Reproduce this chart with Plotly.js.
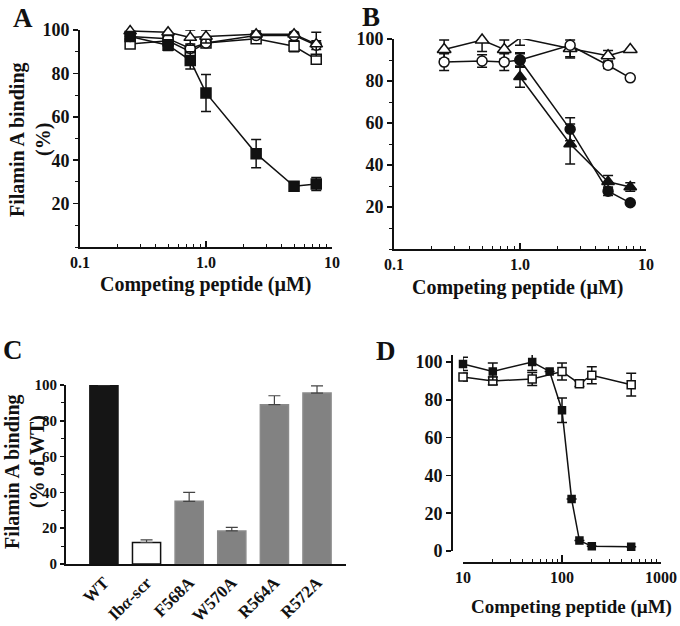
<!DOCTYPE html>
<html><head><meta charset="utf-8">
<script src="https://cdn.plot.ly/plotly-3.0.1.min.js"></script>
<style>html,body{margin:0;padding:0;background:#fff}#chart{width:680px;height:626px}</style>
</head><body><div id="chart"></div>
<script>
// ---------- Panel A ----------
const concAB = [0.25, 0.5, 0.75, 1.0, 2.5, 5, 7.5];
const aFilledSq = [97, 93, 86, 71, 43, 28, 29];
const aFilledSqErr = [2, 2.5, 4, 8.5, 6.5, 1.5, 3];
const aOpenSq = [93.5, 95, 90, 94, 96, 92.5, 86.5];
const aOpenSqErr = [1.5, 1.5, 2, 1.5, 1, 2.5, 1.5];
const aOpenCirc = [97, 96, 91.5, 94, 97.5, 97.5, 93];
const aOpenCircErr = [1, 1, 2, 1, 1, 1, 2];
const aOpenTri = [99.5, 99, 96.5, 97, 98, 98, 93.5];
const aOpenTriErr = [1, 1.5, 3.5, 3, 1.5, 1, 5.5];
// ---------- Panel B ----------
const bOpenTri = [95, 99.5, 95, 100.5, 95.5, 92, 95];
const bOpenTriErr = [4.5, 5.5, 4.5, 3.5, 4, 2.5, 0];
const bOpenCirc = [89, 89.5, 89, 90, 97, 87.5, 81.5];
const bOpenCircErr = [4, 3, 4, 3.5, 6, 1.5, 0];
const concBFilled = [1.0, 2.5, 5, 7.5];
const bFilledCirc = [90, 57, 27.5, 22];
const bFilledCircErr = [3, 5.5, 2, 0];
const bFilledTri = [82, 50, 32, 29.5];
const bFilledTriErr = [5, 9.5, 3, 2];
// ---------- Panel C ----------
const cCategories = ['WT', 'Ib<i>α</i>-scr', 'F568A', 'W570A', 'R564A', 'R572A'];
const cValues = [100, 12, 35, 18.5, 89, 95.5];
const cErrors = [0, 1.5, 5, 2, 5, 4];
// ---------- Panel D ----------
const dConcFilled = [10, 20, 50, 75, 100, 125, 150, 200, 500];
const dFilled = [99, 95, 100, 95, 74.5, 27.5, 5.5, 2.5, 2.2];
const dFilledErr = [3.5, 4.5, 4.5, 0, 6.5, 0, 0, 0, 0];
const dConcOpen = [10, 20, 50, 100, 150, 200, 500];
const dOpen = [92, 90, 91, 95, 88.5, 93, 88];
const dOpenErr = [2, 2, 3.5, 4.5, 1.5, 4.5, 6];

const W = 680, H = 626;
const px = p => p / W, py = p => 1 - p / H;
const FONT = 'Liberation Serif, Times New Roman, serif';
const BLK = '#111';

function errs(arr) { return {type: 'data', array: arr, visible: true, color: BLK, thickness: 1.5, width: 5}; }
function series(x, y, e, sym, fill, size, xa, ya) {
  return {
    type: 'scatter', mode: 'lines+markers', x: x, y: y, xaxis: xa, yaxis: ya,
    error_y: errs(e), cliponaxis: false,
    line: {color: BLK, width: 1.5},
    marker: {symbol: sym, size: size, color: fill, line: {color: BLK, width: 1.5}},
    showlegend: false, hoverinfo: 'skip'
  };
}

const traces = [
  series(concAB, aOpenSq, aOpenSqErr, 'square', '#fff', 10, 'x', 'y'),
  series(concAB, aOpenCirc, aOpenCircErr, 'circle', '#fff', 10, 'x', 'y'),
  series(concAB, aOpenTri, aOpenTriErr, 'triangle-up', '#fff', 11, 'x', 'y'),
  series(concAB, aFilledSq, aFilledSqErr, 'square', BLK, 10, 'x', 'y'),

  series(concAB, bOpenTri, bOpenTriErr, 'triangle-up', '#fff', 12, 'x2', 'y2'),
  series(concAB, bOpenCirc, bOpenCircErr, 'circle', '#fff', 10, 'x2', 'y2'),
  series(concBFilled, bFilledTri, bFilledTriErr, 'triangle-up', BLK, 11, 'x2', 'y2'),
  series(concBFilled, bFilledCirc, bFilledCircErr, 'circle', BLK, 10, 'x2', 'y2'),

  {
    type: 'bar', x: cCategories, y: cValues, xaxis: 'x3', yaxis: 'y3',
    marker: {color: ['#151515', '#ffffff', '#828282', '#828282', '#828282', '#828282'],
             line: {color: ['#151515', BLK, '#8a8a8a', '#8a8a8a', '#8a8a8a', '#8a8a8a'], width: 1.5}},
    error_y: {type: 'data', symmetric: false, array: cErrors, arrayminus: cErrors.map(() => 0),
              visible: true, color: '#444', thickness: 1.2, width: 6},
    showlegend: false, hoverinfo: 'skip'
  },

  series(dConcOpen, dOpen, dOpenErr, 'square', '#fff', 8, 'x4', 'y4'),
  series(dConcFilled, dFilled, dFilledErr, 'square', BLK, 7, 'x4', 'y4')
];

const minorLog = {tickmode: 'array', tickvals: [0.2,0.3,0.4,0.5,0.6,0.7,0.8,0.9,2,3,4,5,6,7,8,9],
                  ticks: 'inside', ticklen: 3, tickwidth: 1, tickcolor: BLK, showgrid: false};
const minorLogD = {tickmode: 'array', tickvals: [20,30,40,50,60,70,80,90,200,300,400,500,600,700,800,900],
                  ticks: 'inside', ticklen: 3, tickwidth: 1, tickcolor: BLK, showgrid: false};
const tickF = s => ({family: FONT, size: s, color: BLK, weight: 'bold'});
const logX = (dom, ya) => ({
  domain: dom, anchor: ya, type: 'log', range: [-1, 1],
  tickmode: 'array', tickvals: [0.1, 1, 10], ticktext: ['0.1', '1.0', '10'],
  ticks: 'inside', ticklen: 6, tickwidth: 1.5, tickcolor: BLK, minor: minorLog,
  showline: true, linewidth: 2, linecolor: BLK, showgrid: false, zeroline: false,
  tickfont: tickF(16), fixedrange: true
});
const linY = (dom, xa) => ({
  domain: dom, anchor: xa, range: [0, 100],
  tickmode: 'array', tickvals: [20, 40, 60, 80, 100],
  ticks: 'outside', ticklen: 5, tickwidth: 1.5, tickcolor: BLK,
  minor: {tickmode: 'linear', tick0: 0, dtick: 10, ticks: 'outside', ticklen: 3, tickwidth: 1, tickcolor: BLK, showgrid: false},
  showline: true, linewidth: 2, linecolor: BLK, showgrid: false, zeroline: false,
  tickfont: tickF(18), fixedrange: true
});

const ann = (text, x, y, size, angle) => ({
  text: text, x: x, y: y, xref: 'paper', yref: 'paper', showarrow: false,
  xanchor: 'center', yanchor: 'middle', textangle: angle || 0,
  font: {family: FONT, size: size, color: BLK, weight: 'bold'}
});
const letter = (t, x, y) => ({
  text: t, x: x, y: y, xref: 'paper', yref: 'paper', showarrow: false,
  xanchor: 'left', yanchor: 'top', font: {family: FONT, size: 27, color: BLK, weight: 'bold'}
});

const layout = {
  width: W, height: H, margin: {l: 0, r: 0, t: 0, b: 0},
  paper_bgcolor: '#fff', plot_bgcolor: 'rgba(0,0,0,0)', showlegend: false,
  font: {family: FONT, color: BLK},
  xaxis: logX([px(80), px(332)], 'y'),
  yaxis: linY([py(247), py(30)], 'x'),
  xaxis2: logX([px(394), px(646)], 'y2'),
  yaxis2: linY([py(249), py(39)], 'x2'),
  xaxis3: {
    domain: [px(66), px(346)], anchor: 'y3', type: 'category', range: [-0.89, 5.68],
    ticks: '', tickangle: -45, showline: true, linewidth: 2, linecolor: BLK,
    showgrid: false, zeroline: false, tickfont: tickF(17), fixedrange: true
  },
  yaxis3: {
    domain: [py(564), py(385)], anchor: 'x3', range: [0, 100],
    tickmode: 'array', tickvals: [0, 20, 40, 60, 80, 100],
    ticks: 'outside', ticklen: 4, tickwidth: 1.5, tickcolor: BLK,
    minor: {tickmode: 'linear', tick0: 0, dtick: 10, ticks: 'outside', ticklen: 3, tickwidth: 1, tickcolor: BLK, showgrid: false},
    showline: true, linewidth: 2, linecolor: BLK, showgrid: false, zeroline: false,
    tickfont: tickF(15), fixedrange: true
  },
  bargap: 0.34,
  xaxis4: {
    domain: [px(463), px(661)], anchor: 'free', position: py(563), type: 'log', range: [1, 3],
    tickmode: 'array', tickvals: [10, 100, 1000], ticktext: ['10', '100', '1000'],
    ticks: 'inside', ticklen: 7, tickwidth: 1.5, tickcolor: BLK, minor: minorLogD,
    showline: true, linewidth: 2, linecolor: BLK, showgrid: false, zeroline: false,
    tickfont: tickF(16), fixedrange: true
  },
  yaxis4: {
    domain: [py(551), py(355)], anchor: 'free', position: px(452), range: [0, 103.7],
    tickmode: 'array', tickvals: [0, 20, 40, 60, 80, 100],
    ticks: 'outside', ticklen: 5, tickwidth: 1.5, tickcolor: BLK,
    showline: true, linewidth: 2, linecolor: BLK, showgrid: false, zeroline: false,
    tickfont: tickF(18), fixedrange: true
  },
  annotations: [
    letter('A', px(11), py(1)),
    letter('B', px(360), py(0)),
    letter('C', px(1), py(333)),
    letter('D', px(374), py(334)),
    ann('Competing peptide (µM)', px(206), py(284), 20),
    ann('Competing peptide (µM)', px(518), py(287), 20),
    ann('Competing peptide (µM)', px(571), py(607), 19),
    ann('Filamin A binding', px(17), py(140), 20, -90),
    ann('(%)', px(43), py(140), 20, -90),
    ann('Filamin A binding', px(12), py(472), 20, -90),
    ann('(% of WT)', px(37), py(462), 20, -90)
  ]
};

Plotly.newPlot('chart', traces, layout, {staticPlot: true, displayModeBar: false});
</script>
</body></html>
